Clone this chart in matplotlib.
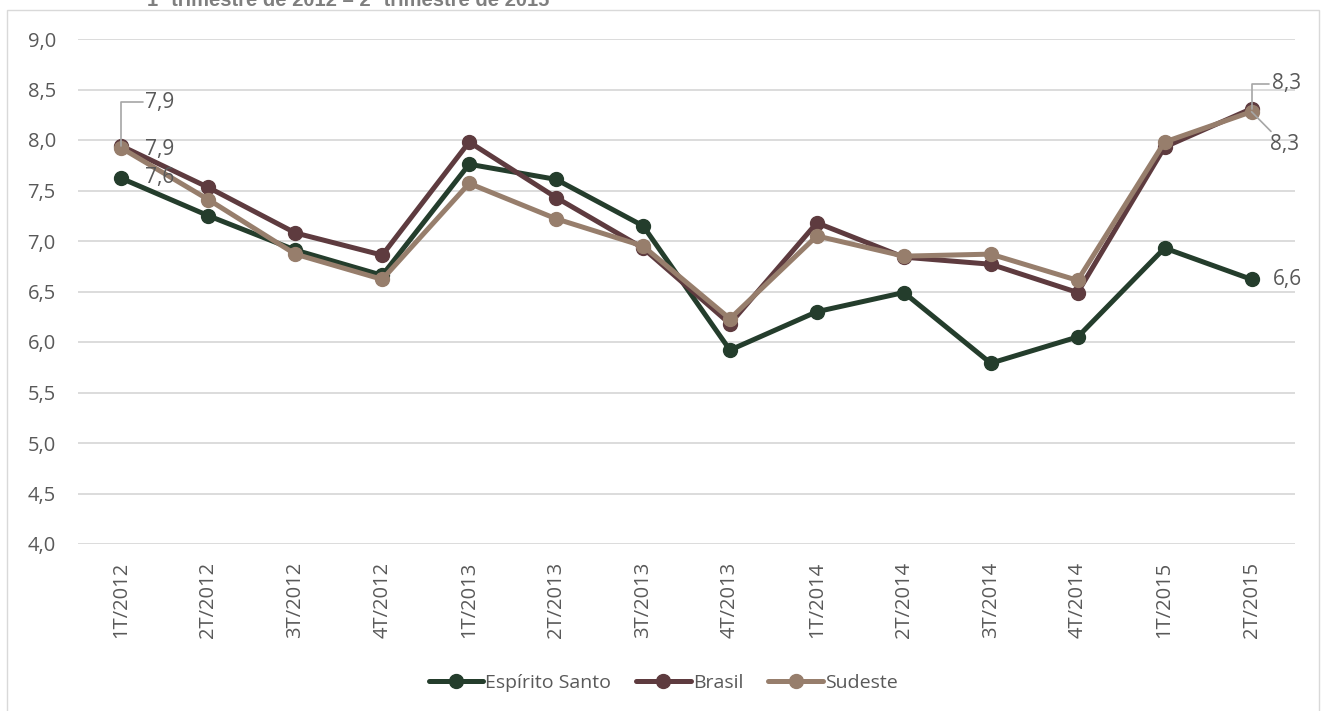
import matplotlib.pyplot as plt
from matplotlib.lines import Line2D
from matplotlib.patches import Rectangle

plt.rcParams['font.family'] = ['Open Sans', 'DejaVu Sans']

# Data
quarters = ['1T/2012', '2T/2012', '3T/2012', '4T/2012',
            '1T/2013', '2T/2013', '3T/2013', '4T/2013',
            '1T/2014', '2T/2014', '3T/2014', '4T/2014',
            '1T/2015', '2T/2015']
espirito_santo = [7.62, 7.25, 6.91, 6.66, 7.76, 7.61, 7.15, 5.92,
                  6.30, 6.49, 5.79, 6.05, 6.93, 6.62]
brasil = [7.94, 7.53, 7.08, 6.86, 7.98, 7.43, 6.93, 6.18,
          7.18, 6.84, 6.77, 6.49, 7.93, 8.31]
sudeste = [7.92, 7.41, 6.87, 6.62, 7.57, 7.22, 6.95, 6.23,
           7.05, 6.85, 6.87, 6.61, 7.98, 8.28]
yticks = [4.0, 4.5, 5.0, 5.5, 6.0, 6.5, 7.0, 7.5, 8.0, 8.5, 9.0]

colors = {'Espírito Santo': '#243D2C', 'Brasil': '#5E3B3F', 'Sudeste': '#977E6C'}
text_color = '#595959'

W, H = 1326, 711
fig = plt.figure(figsize=(W / 100, H / 100), dpi=100)

# outer chart border
fig.patches.append(Rectangle((7 / W, -0.01), 1312 / W, 1 - 10 / H + 0.01,
                             transform=fig.transFigure, fill=False,
                             edgecolor='#D9D9D9', linewidth=1.0))

# title, cut off at the top as in the source image
fig.text(147 / W, 1 - 6 / H, '1º trimestre de 2012 – 2º trimestre de 2015',
         fontsize=14.5, fontweight='bold', color='#7F7F7F',
         family=['Liberation Sans', 'DejaVu Sans'], va='baseline', ha='left')

ax = fig.add_axes([78 / W, (H - 544) / H, (1295 - 78) / W, (544 - 39) / H])
x = range(len(quarters))
for name, vals in [('Espírito Santo', espirito_santo), ('Brasil', brasil), ('Sudeste', sudeste)]:
    ax.plot(x, vals, color=colors[name], linewidth=3.6, marker='o',
            markersize=10, label=name, zorder=3, solid_capstyle='round')

ax.set_xlim(-0.5, len(quarters) - 0.5)
ax.set_ylim(4, 9)
ax.set_yticks(yticks)
ax.set_yticklabels([f'{v:.1f}'.replace('.', ',') for v in yticks])
ax.set_xticks(list(x))
ax.set_xticklabels(quarters, rotation=90)
ax.tick_params(axis='both', length=0, labelsize=14.5, colors=text_color)
ax.tick_params(axis='x', pad=13)
ax.tick_params(axis='y', pad=16)
for s in ax.spines.values():
    s.set_visible(False)
ax.grid(axis='y', color='#D9D9D9', linewidth=1.3)
ax.set_axisbelow(True)

lead = dict(arrowstyle='-', color='#A6A6A6', linewidth=1.2, shrinkA=0, shrinkB=0)


def fmt(v):
    return f'{v:.1f}'.replace('.', ',')


lab = dict(fontsize=15, color=text_color, textcoords='offset pixels', va='center', ha='left')

# first point labels
ax.annotate(fmt(brasil[0]), xy=(0, brasil[0]), xytext=(24, 44),
            arrowprops=dict(connectionstyle='angle,angleA=0,angleB=90,rad=0', **lead), **lab)
ax.annotate(fmt(sudeste[0]), xy=(0, sudeste[0]), xytext=(24, -1), **lab)
ax.annotate(fmt(espirito_santo[0]), xy=(0, espirito_santo[0]), xytext=(24, 1), **lab)

# last point labels
n = len(quarters) - 1
ax.annotate(fmt(brasil[n]), xy=(n, brasil[n]), xytext=(20, 25),
            arrowprops=dict(connectionstyle='angle,angleA=0,angleB=90,rad=0', **lead), **lab)
ax.annotate(fmt(sudeste[n]), xy=(n, sudeste[n]), xytext=(18, -33),
            arrowprops=dict(connectionstyle='arc3', **lead), **lab)
ax.annotate(fmt(espirito_santo[n]), xy=(n, espirito_santo[n]), xytext=(21, 0), **lab)

handles = [Line2D([], [], color=colors[k], linewidth=3.6, marker='o', markersize=10,
                  solid_capstyle='round') for k in colors]
fig.legend(handles, list(colors), loc='center', bbox_to_anchor=(0.5, (H - 683) / H),
           ncol=3, frameon=False, fontsize=14, handlelength=2.8, handletextpad=0.1,
           columnspacing=1.3, labelcolor=text_color)

fig.savefig('out.png', dpi=100)
